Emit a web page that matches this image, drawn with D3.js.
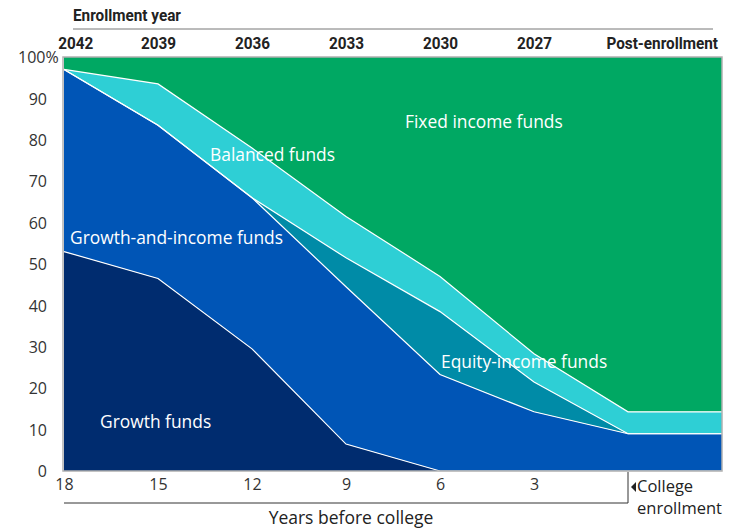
<!DOCTYPE html>
<html>
<head>
<meta charset="utf-8">
<script src="https://cdn.jsdelivr.net/npm/d3@7"></script>
<style>
  body { margin: 0; background: #fff; }
  svg { display: block; }
</style>
</head>
<body>
<div id="chart"></div>
<script>
// years before college (-3 = post-enrollment)
var yearsBefore = [18, 15, 12, 9, 6, 3, 0, -3];
var enrollYears = ['2042', '2039', '2036', '2033', '2030', '2027'];

// allocation, % per fund type
var growth       = [53, 46.5, 29.5, 6.5, 0, 0, 0, 0];
var growthIncome = [44, 37, 36.5, 38, 23.3, 14.3, 9, 9];
var equityIncome = [0, 0, 0, 7, 15.2, 7.2, 0, 0];
var balanced     = [0, 10, 12, 10, 8.5, 6.8, 5.3, 5.3];
var fixedIncome  = [3, 6.5, 22, 38.5, 53, 71.7, 85.7, 85.7];

var keys = ['growth', 'growthIncome', 'equityIncome', 'balanced', 'fixedIncome'];
var colors = {
    growth: '#002c6f',
    growthIncome: '#0055b6',
    equityIncome: '#008ba7',
    balanced: '#2ecfd5',
    fixedIncome: '#00a863'
};

var rows = yearsBefore.map(function(yb, i) {
    return {
        yb: yb,
        growth: growth[i],
        growthIncome: growthIncome[i],
        equityIncome: equityIncome[i],
        balanced: balanced[i],
        fixedIncome: fixedIncome[i]
    };
});

var margin = { top: 57, right: 20, bottom: 58, left: 64 };
var width = 742, height = 529;
var font = "'Open Sans', sans-serif";
var bold = "Roboto, sans-serif";

var svg = d3.select('#chart').append('svg')
    .attr('width', width)
    .attr('height', height);

var x = d3.scaleLinear().domain([18, -3]).range([margin.left, width - margin.right]);
var y = d3.scaleLinear().domain([0, 100]).range([height - margin.bottom, margin.top]);

var series = d3.stack().keys(keys)(rows);

var area = d3.area()
    .x(function(d) { return x(d.data.yb); })
    .y0(function(d) { return y(d[0]); })
    .y1(function(d) { return y(d[1]); });

svg.append('g').selectAll('path')
    .data(series)
    .join('path')
    .attr('fill', function(d) { return colors[d.key]; })
    .attr('d', area);

// white separators between layers
var line = d3.line()
    .x(function(d) { return x(d.data.yb); })
    .y(function(d) { return y(d[1]); });

svg.append('g').selectAll('path')
    .data(series.slice(0, 4))
    .join('path')
    .attr('fill', 'none')
    .attr('stroke', '#fff')
    .attr('stroke-width', 1.2)
    .attr('d', line);

// frame
svg.append('rect')
    .attr('x', x(18) - 1)
    .attr('y', y(100))
    .attr('width', x(-3) - x(18) + 1)
    .attr('height', y(0) - y(100))
    .attr('fill', 'none')
    .attr('stroke', '#b0b0b0')
    .attr('stroke-width', 1.5);

// area labels
var labels = [
    { t: 'Fixed income funds', x: 405, y: 128 },
    { t: 'Balanced funds', x: 210, y: 161 },
    { t: 'Growth-and-income funds', x: 70, y: 244 },
    { t: 'Equity-income funds', x: 441, y: 368 },
    { t: 'Growth funds', x: 100, y: 428 }
];
svg.append('g').selectAll('text')
    .data(labels)
    .join('text')
    .attr('x', function(d) { return d.x; })
    .attr('y', function(d) { return d.y; })
    .attr('fill', '#fff')
    .style('font', '17.4px ' + font)
    .text(function(d) { return d.t; });

// y axis
var yAxis = svg.append('g')
    .attr('transform', 'translate(' + (margin.left - 17) + ',0)')
    .call(d3.axisLeft(y).tickValues(d3.range(0, 101, 10)).tickSize(0).tickPadding(0));
yAxis.select('.domain').remove();
yAxis.selectAll('text')
    .attr('fill', '#333')
    .style('font', '16px ' + font)
    .attr('dy', '0.35em');
yAxis.selectAll('.tick')
    .filter(function(d) { return d === 100; })
    .select('text')
    .attr('text-anchor', 'start')
    .attr('x', -29)
    .text('100%');

// bottom axis
var xAxis = svg.append('g')
    .attr('transform', 'translate(0,' + (height - margin.bottom + 5) + ')')
    .call(d3.axisBottom(x).tickValues(yearsBefore.slice(0, 6)).tickSize(0).tickPadding(0));
xAxis.select('.domain').remove();
xAxis.selectAll('text')
    .attr('fill', '#333')
    .attr('dy', '0.9em')
    .style('font', '16px ' + font);

// bracket under bottom axis
var bracketY = 503;
svg.append('path')
    .attr('d', 'M' + x(18) + ',' + bracketY + 'H' + x(0) + 'V' + (y(0) + 1))
    .attr('fill', 'none')
    .attr('stroke', '#333')
    .attr('stroke-width', 1);

svg.append('text')
    .attr('x', 351)
    .attr('y', 524)
    .attr('text-anchor', 'middle')
    .attr('fill', '#222')
    .style('font', '17.5px ' + font)
    .text('Years before college');

svg.append('path')
    .attr('d', 'M' + (x(0) + 3) + ',487l5,-5v10z')
    .attr('fill', '#222');
var ce = svg.append('text')
    .attr('fill', '#222')
    .style('font', '16.5px ' + font);
ce.append('tspan').attr('x', x(0) + 9).attr('y', 492).text('College');
ce.append('tspan').attr('x', x(0) + 9).attr('y', 514).text('enrollment');

// top axis: enrollment year
var topLabels = enrollYears.concat(['Post-enrollment']);
var topAxis = svg.append('g')
    .attr('transform', 'translate(0,' + (margin.top - 8) + ')')
    .call(d3.axisTop(x).tickValues(yearsBefore.filter(function(d) { return d !== 0; }))
        .tickSize(0).tickPadding(0)
        .tickFormat(function(d, i) { return topLabels[i]; }));
topAxis.select('.domain').remove();
topAxis.selectAll('text')
    .attr('fill', '#222')
    .attr('dy', 0)
    .style('font', 'bold 17px ' + bold)
    .attr('transform', 'scale(0.9,1)');
topAxis.selectAll('.tick')
    .filter(function(d) { return d === 18; })
    .select('text')
    .attr('text-anchor', 'start')
    .attr('x', -7);
topAxis.selectAll('.tick')
    .filter(function(d) { return d === -3; })
    .select('text')
    .attr('text-anchor', 'end')
    .attr('x', -5);

svg.append('line')
    .attr('x1', 73).attr('x2', 713)
    .attr('y1', 29).attr('y2', 29)
    .attr('stroke', '#777')
    .attr('stroke-width', 1);

svg.append('text')
    .attr('y', 21)
    .attr('fill', '#222')
    .attr('transform', 'scale(0.9,1)')
    .style('font', 'bold 17px ' + bold)
    .attr('x', 73 / 0.9)
    .text('Enrollment year');
</script>
</body>
</html>
